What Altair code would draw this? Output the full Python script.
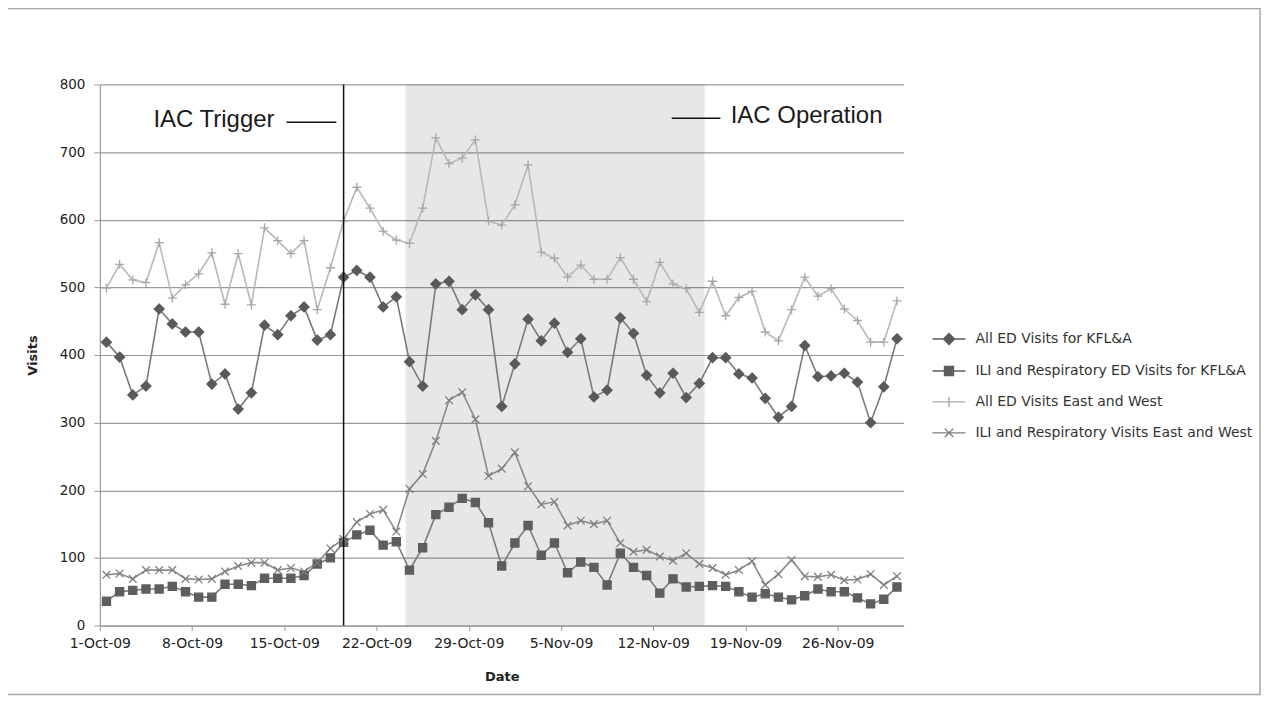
import altair as alt
import pandas as pd

# ---------------- data ----------------
DATES = pd.date_range("2009-10-01", "2009-11-30", freq="D")
SERIES = [
    "All ED Visits for KFL&A",
    "ILI and Respiratory ED Visits for KFL&A",
    "All ED Visits East and West",
    "ILI and Respiratory Visits East and West",
]
ALL_KFLA = [419, 397, 341, 354, 468, 446, 434, 434, 357, 372, 320, 344, 444, 430, 458, 471,
            422, 430, 515, 525, 515, 471, 486, 390, 354, 505, 509, 467, 489, 467, 324, 387,
            453, 421, 447, 404, 424, 338, 348, 455, 432, 370, 344, 373, 337, 358, 396, 396,
            372, 366, 336, 308, 324, 414, 368, 369, 373, 360, 300, 353, 424]
ILI_KFLA = [36, 50, 52, 54, 54, 58, 50, 42, 42, 61, 61, 59, 70, 70, 70, 74,
            91, 100, 123, 134, 141, 119, 124, 82, 115, 164, 175, 188, 182, 152, 88, 122,
            148, 104, 122, 78, 94, 86, 60, 107, 86, 74, 48, 69, 57, 58, 59, 58,
            50, 42, 47, 42, 38, 44, 54, 50, 50, 41, 32, 39, 57]
ALL_EW = [499, 534, 511, 507, 566, 484, 504, 520, 551, 475, 550, 474, 588, 569, 550, 569,
          467, 529, 598, 648, 617, 583, 570, 565, 617, 721, 683, 691, 718, 598, 592, 622,
          681, 552, 543, 515, 533, 512, 512, 544, 512, 479, 537, 505, 498, 463, 509, 458,
          485, 494, 434, 421, 467, 515, 487, 498, 468, 451, 419, 419, 480]
ILI_EW = [75, 77, 69, 82, 82, 82, 69, 68, 69, 80, 88, 93, 93, 82, 85, 80,
          93, 114, 128, 153, 165, 171, 139, 202, 224, 273, 333, 345, 305, 221, 232, 256,
          206, 179, 183, 148, 155, 150, 155, 122, 109, 112, 102, 96, 107, 91, 85, 75,
          82, 95, 60, 76, 97, 73, 72, 75, 67, 68, 76, 60, 73]
TICK_LABELS = ["1-Oct-09", "8-Oct-09", "15-Oct-09", "22-Oct-09", "29-Oct-09",
               "5-Nov-09", "12-Nov-09", "19-Nov-09", "26-Nov-09"]
Y_TICKS = [0, 100, 200, 300, 400, 500, 600, 700, 800]
TRIGGER_DAY = 18            # 19-Oct-09
OPERATION = [23.2, 45.9]    # shaded IAC operation period (day axis units)
ANNOT_TEXT = ["IAC Trigger", "IAC Operation"]
ANNOT_X = [13.26, 47.88]
ANNOT_Y = [748, 754]
DASH_X = [[14.17, 17.95], [43.4, 47.1]]
DASH_Y = [744, 750]

# ---------------- tables ----------------
rows = []
for name, vals in zip(SERIES, [ALL_KFLA, ILI_KFLA, ALL_EW, ILI_EW]):
    for i, (d, v) in enumerate(zip(DATES, vals)):
        rows.append({"series": name, "date": d.strftime("%Y-%m-%d"), "pos": i + 0.5, "value": v})
df = pd.DataFrame(rows)

shade_df = pd.DataFrame({"start": [OPERATION[0]], "end": [OPERATION[1]], "lo": [0], "hi": [Y_TICKS[-1]]})
trig_df = pd.DataFrame({"pos": [TRIGGER_DAY + 0.5], "lo": [0], "hi": [Y_TICKS[-1]]})
ann_df = pd.DataFrame({"label": ANNOT_TEXT, "ax": ANNOT_X, "ay": ANNOT_Y})
dash_df = pd.DataFrame({"x1": [d[0] for d in DASH_X], "x2": [d[1] for d in DASH_X], "ay": DASH_Y})

# ---------------- styling ----------------
FONT = "DejaVu Sans"
GRID = "#9a9a9a"
LINE_COLORS = ["#7a7a7a", "#7a7a7a", "#b8b8b8", "#8a8a8a"]
MARK_FILL = ["#5a5a5a", "#5e5e5e", "#b0b0b0", "#858585"]
MARK_STROKE = ["#5a5a5a", "#5e5e5e", "#a8a8a8", "#7f7f7f"]
POINT_SHAPES = [
    "M0,-1.1L1.1,0L0,1.1L-1.1,0Z",
    "M-0.9,-0.9H0.9V0.9H-0.9Z",
    "M-1,0H1M0,-1V1",
    "M-0.85,-0.85L0.85,0.85M-0.85,0.85L0.85,-0.85",
]
LEGEND_SHAPES = ["M-3.3,0H3.3" + s for s in ["M0,-1.1L1.1,0L0,1.1L-1.1,0Z",
                                              "M-0.9,-0.9H0.9V0.9H-0.9Z",
                                              "M0,-1V1",
                                              "M-0.85,-0.85L0.85,0.85M-0.85,0.85L0.85,-0.85"]]

label_expr = "[" + ",".join("'%s'" % t for t in TICK_LABELS) + "][round(datum.value / 7)]"
xscale = alt.Scale(domain=[0, 61], nice=False, zero=False)
yscale = alt.Scale(domain=[0, 800], nice=False)
xaxis = alt.Axis(values=[7 * i for i in range(len(TICK_LABELS))], labelExpr=label_expr, title="Date",
                 grid=False, domainColor=GRID, domainWidth=1.2, tickColor=GRID, tickSize=5,
                 labelFont=FONT, labelFontSize=14, labelColor="#222", labelPadding=6,
                 labelFlush=False, labelOverlap=False,
                 titleFont=FONT, titleFontSize=13, titleFontWeight="bold", titleColor="#222",
                 titleY=51, titleBaseline="middle")
yaxis = alt.Axis(values=Y_TICKS, grid=True, gridColor=GRID, gridWidth=1.2,
                 domainColor=GRID, domainWidth=1.2, tickColor=GRID, tickSize=6,
                 labelFont=FONT, labelFontSize=13.5, labelColor="#222", labelPadding=9,
                 title="Visits", titleFont=FONT, titleFontSize=13, titleFontWeight="bold",
                 titleColor="#222", titleX=-67, titleY=271, titleBaseline="middle")

X = lambda f: alt.X(f, type="quantitative", scale=xscale, axis=xaxis)
Y = lambda f: alt.Y(f, type="quantitative", scale=yscale, axis=yaxis)

shade = alt.Chart(shade_df).mark_rect(fill="#000000", opacity=0.095).encode(
    x=X("start"), x2="end", y=Y("lo"), y2="hi")

trigger = alt.Chart(trig_df).mark_rule(color="#111111", strokeWidth=1.5).encode(
    x=X("pos"), y=Y("lo"), y2="hi")

lines = alt.Chart(df).mark_line(strokeWidth=1.6).encode(
    x=X("pos"), y=Y("value"),
    stroke=alt.Stroke("series:N", scale=alt.Scale(domain=SERIES, range=LINE_COLORS), legend=None),
    order="pos:Q")

points = alt.Chart(df).mark_point(size=81, strokeWidth=1.3, opacity=1).encode(
    x=X("pos"), y=Y("value"),
    shape=alt.Shape("series:N", scale=alt.Scale(domain=SERIES, range=POINT_SHAPES), legend=None),
    fill=alt.Fill("series:N", scale=alt.Scale(domain=SERIES, range=MARK_FILL), legend=None),
    stroke=alt.Stroke("series:N", scale=alt.Scale(domain=SERIES, range=MARK_STROKE), legend=None))

leg = alt.Legend(title=None, orient="none", legendX=843.5, legendY=248, padding=0,
                 labelFont=FONT, labelFontSize=14, labelColor="#333", labelLimit=400,
                 labelOffset=19.5, rowPadding=15, symbolStrokeWidth=1.4, symbolOpacity=1)
legend_layer = alt.Chart(df).mark_point(size=81, strokeWidth=1.4, opacity=0).encode(
    x=X("pos"), y=Y("value"),
    shape=alt.Shape("series:N", scale=alt.Scale(domain=SERIES, range=LEGEND_SHAPES), legend=leg),
    fill=alt.Fill("series:N", scale=alt.Scale(domain=SERIES, range=MARK_FILL), legend=leg),
    stroke=alt.Stroke("series:N", scale=alt.Scale(domain=SERIES, range=MARK_STROKE), legend=leg))

ann_left = alt.Chart(ann_df).transform_filter(alt.datum.label == ANNOT_TEXT[0]).mark_text(
    align="right", baseline="middle", font="Liberation Sans", fontSize=24, color="#1a1a1a").encode(
    x=X("ax"), y=Y("ay"), text="label:N")
ann_right = alt.Chart(ann_df).transform_filter(alt.datum.label == ANNOT_TEXT[1]).mark_text(
    align="left", baseline="middle", font="Liberation Sans", fontSize=24, color="#1a1a1a").encode(
    x=X("ax"), y=Y("ay"), text="label:N")
dashes = alt.Chart(dash_df).mark_rule(color="#111111", strokeWidth=1.5).encode(
    x=X("x1"), x2="x2", y=Y("ay"))

frame = alt.Chart(pd.DataFrame({"k": [0]})).mark_rect(
    fillOpacity=0, stroke="#a6a6a6", strokeWidth=1.5).encode(
    x=alt.value(-93), x2=alt.value(1162), y=alt.value(-76), y2=alt.value(611))

chart = alt.layer(frame, shade, lines, points, legend_layer, trigger, dashes, ann_left, ann_right).resolve_scale(
    shape="independent", fill="independent", stroke="independent"
).properties(
    width=805, height=542,
    padding={"left": 92, "top": 76, "right": 359, "bottom": 70},
    autosize=alt.AutoSizeParams(type="none"),
    background="white",
).configure_view(stroke=None)

chart.save("out.html", embed_options={"renderer": "svg", "actions": False})
